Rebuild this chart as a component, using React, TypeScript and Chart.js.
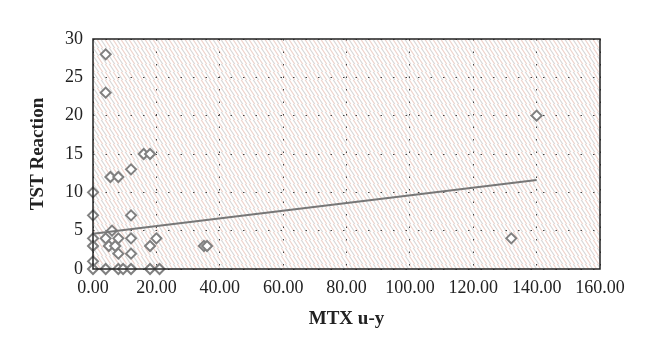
import React, { useEffect, useRef } from "react";
import { Chart, registerables } from "chart.js";

Chart.register(...registerables);

const mtxValues = [0, 0, 0, 0, 0, 0, 4, 4, 4, 4, 5, 6, 7, 5.5, 8, 8, 8, 8, 9.5, 12, 12, 12, 12, 12, 16, 18, 18, 18, 20, 21, 35, 36, 132, 140];
const tstValues = [10, 7, 4, 3, 1, 0, 28, 23, 4, 0, 3, 5, 3, 12, 12, 4, 2, 0, 0, 13, 7, 4, 2, 0, 15, 15, 3, 0, 4, 0, 3, 3, 4, 20];
const trendX = [0, 140];
const trendY = [4.6, 11.6];
const xTicks = [0, 20, 40, 60, 80, 100, 120, 140, 160];
const yTicks = [0, 5, 10, 15, 20, 25, 30];

const hatchPlugin = {
  id: "hatch",
  beforeDraw(chart: any) {
    const { ctx, chartArea } = chart;
    const tile = document.createElement("canvas");
    tile.width = 8;
    tile.height = 8;
    const t = tile.getContext("2d")!;
    t.fillStyle = "#ffffff";
    t.fillRect(0, 0, 8, 8);
    t.lineWidth = 1.2;
    const drawDiag = (off: number, color: string) => {
      t.strokeStyle = color;
      for (let k = -2; k <= 2; k++) {
        t.beginPath();
        t.moveTo(k * 8 + off - 8, -8);
        t.lineTo(k * 8 + off + 8, 16);
        t.stroke();
      }
    };
    drawDiag(0, "#d8d8d8");
    drawDiag(4, "#efd4cd");
    const pat = ctx.createPattern(tile, "repeat");
    ctx.save();
    ctx.fillStyle = pat;
    ctx.fillRect(chartArea.left, chartArea.top, chartArea.right - chartArea.left, chartArea.bottom - chartArea.top);
    ctx.restore();
  },
  afterDatasetsDraw(chart: any) {
    const { ctx, chartArea } = chart;
    ctx.save();
    ctx.strokeStyle = "#222222";
    ctx.lineWidth = 1.5;
    ctx.strokeRect(chartArea.left, chartArea.top, chartArea.right - chartArea.left, chartArea.bottom - chartArea.top);
    ctx.restore();
  },
};

export default function App() {
  const ref = useRef<HTMLCanvasElement>(null);
  useEffect(() => {
    document.body.style.margin = "0";
    const points = mtxValues.map((x, i) => ({ x, y: tstValues[i] }));
    const trend = trendX.map((x, i) => ({ x, y: trendY[i] }));
    const tickFont = { family: "'Liberation Serif', 'DejaVu Serif', serif", size: 18 };
    const titleFont = { family: "'Liberation Serif', 'DejaVu Serif', serif", size: 19, weight: "bold" as const };
    const chart = new Chart(ref.current!, {
      type: "scatter",
      data: {
        datasets: [
          {
            data: trend,
            type: "line",
            borderColor: "#777777",
            borderWidth: 2,
            pointRadius: 0,
            showLine: true,
            fill: false,
            clip: false,
          } as any,
          {
            data: points,
            pointStyle: "rectRot",
            pointRadius: 5,
            pointBorderWidth: 2,
            pointBorderColor: "#808080",
            pointBackgroundColor: "#ffffff",
            clip: false,
          } as any,
        ],
      },
      options: {
        animation: false,
        responsive: false,
        layout: { padding: { left: 0, right: 60, top: 39, bottom: 0 } },
        plugins: { legend: { display: false }, tooltip: { enabled: false } },
        scales: {
          x: {
            type: "linear",
            min: 0,
            max: 160,
            afterBuildTicks: (s: any) => {
              s.ticks = xTicks.map((v) => ({ value: v }));
            },
            afterFit: (s: any) => {
              s.height = 92;
            },
            ticks: {
              color: "#222",
              font: tickFont,
              padding: 8,
              callback: (v: any) => Number(v).toFixed(2),
            },
            grid: { drawTicks: false, color: "#444", lineWidth: 1 },
            border: { display: false, dash: [1.5, 11] },
            title: { display: true, text: "MTX u-y", font: titleFont, color: "#222", padding: { top: 0, bottom: 31 } },
          },
          y: {
            type: "linear",
            min: 0,
            max: 30,
            afterBuildTicks: (s: any) => {
              s.ticks = yTicks.map((v) => ({ value: v }));
            },
            afterFit: (s: any) => {
              s.width = 93;
            },
            ticks: { color: "#222", font: tickFont, padding: 10 },
            grid: { drawTicks: false, color: "#444", lineWidth: 1 },
            border: { display: false, dash: [1.5, 11] },
            title: { display: true, text: "TST Reaction", font: titleFont, color: "#222", padding: { top: 27, bottom: 0 } },
          },
        },
      },
      plugins: [hatchPlugin],
    });
    return () => chart.destroy();
  }, []);
  return (
    <div style={{ position: "absolute", left: 0, top: 0, width: 660, height: 361, background: "#fff" }}>
      <canvas ref={ref} width={660} height={361} />
    </div>
  );
}
